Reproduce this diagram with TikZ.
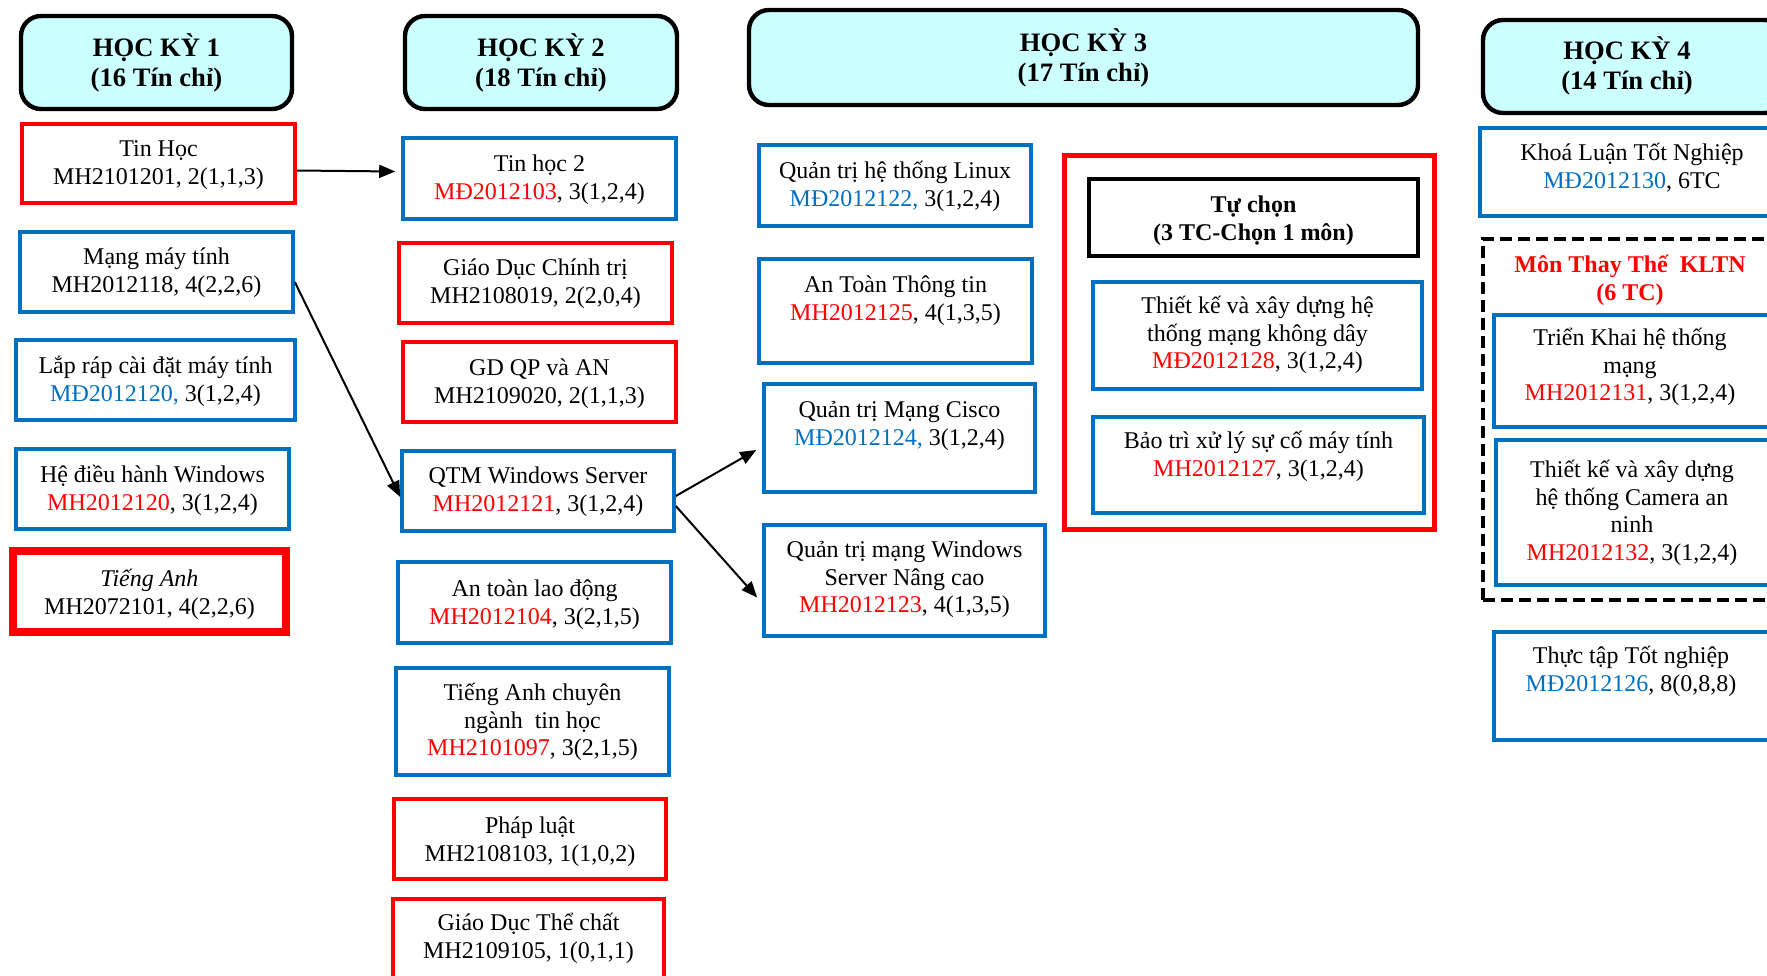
\documentclass[tikz,border=0pt]{standalone}
\usepackage{fontspec}
\setmainfont{Liberation Serif}
\usetikzlibrary{arrows.meta,fit,calc}
\definecolor{bl}{RGB}{0,112,192}
\definecolor{rd}{RGB}{255,0,0}
\definecolor{hdfill}{RGB}{204,255,255}
\newcommand\fst{\rule{0pt}{11pt}}
\newcommand\rtx[1]{{\color{rd}#1}}
\newcommand\btx[1]{{\color{bl}#1}}
\begin{document}
\begin{tikzpicture}[x=0.5pt,y=-0.5pt,
  bbox/.style={draw=bl,line width=1.8pt,inner sep=0pt},
  rbox/.style={draw=rd,line width=1.8pt,inner sep=0pt},
  rthick/.style={draw=rd,line width=3.6pt,inner sep=0pt},
  kbox/.style={draw=black,line width=1.9pt,inner sep=0pt},
  rbig/.style={draw=rd,line width=2.4pt,inner sep=0pt},
  dbox/.style={draw=black,line width=1.6pt,dash pattern=on 6pt off 3pt,inner sep=0pt},
  hdr/.style={draw=black,fill=hdfill,line width=2.2pt,rounded corners=10pt,inner sep=0pt},
  htxt/.style={font=\fontsize{13.3}{15}\selectfont\bfseries,align=center,inner sep=0pt},
  txt/.style={font=\fontsize{12}{13.8}\selectfont,align=center,inner sep=0pt,anchor=north},
  bxt/.style={font=\fontsize{12}{13.8}\selectfont\bfseries,align=center,inner sep=0pt,anchor=north},
  arr/.style={-{Triangle[length=8pt,width=6.5pt]},line width=1pt}]
\useasboundingbox (0,0) rectangle (1767,975);
\clip (0,0) rectangle (1767,975);
\fill[white] (0,0) rectangle (1767,975);

% headers
\node[hdr,fit={(21,16)(292,109)}] (h1) {};
\node[htxt] (h1t) at (h1.center) {HỌC KỲ 1\\(16 Tín chỉ)};
\node[hdr,fit={(405,16)(677,109)}] (h2) {};
\node[htxt] (h2t) at (h2.center) {HỌC KỲ 2\\(18 Tín chỉ)};
\node[hdr,fit={(749,10)(1418,105)}] (h3) {};
\node[htxt] (h3t) at (h3.center) {HỌC KỲ 3\\(17 Tín chỉ)};
\node[hdr,fit={(1483,20)(1785,113)}] (h4) {};
\node[htxt] (h4t) at (1627,66) {HỌC KỲ 4\\(14 Tín chỉ)};

% column 1
\node[rbox,fit={(22,124)(295,203)}] (tinhoc) {};
\node[txt] (tinhoct) at (158.5,134) {\fst Tin Học\\MH2101201, 2(1,1,3)};
\node[bbox,fit={(20,232)(293,312)}] (mang) {};
\node[txt] (mangt) at (156.5,242) {\fst Mạng máy tính\\MH2012118, 4(2,2,6)};
\node[bbox,fit={(16,340)(295,420)}] (laprap) {};
\node[txt] (laprapt) at (155.5,351) {\fst Lắp ráp cài đặt máy tính\\\btx{MĐ2012120,} 3(1,2,4)};
\node[bbox,fit={(16,449)(289,529)}] (hdh) {};
\node[txt] (hdht) at (152.5,460) {\fst Hệ điều hành Windows\\\rtx{MH2012120}, 3(1,2,4)};
\node[rthick,fit={(13,551)(286,632)}] (tienganh) {};
\node[txt] (tiengangt) at (149.5,564) {\fst\textit{Tiếng Anh}\\MH2072101, 4(2,2,6)};

% column 2
\node[bbox,fit={(403,138)(676,219)}] (tinhoc2) {};
\node[txt] (tinhoc2t) at (539.5,149) {\fst Tin học 2\\\rtx{MĐ2012103}, 3(1,2,4)};
\node[rbox,fit={(399,243)(672,323)}] (gdct) {};
\node[txt] (gdctt) at (535.5,253) {\fst Giáo Dục Chính trị\\MH2108019, 2(2,0,4)};
\node[rbox,fit={(403,342)(676,422)}] (gdqp) {};
\node[txt] (gdqpt) at (539.5,353) {\fst GD QP và AN\\MH2109020, 2(1,1,3)};
\node[bbox,fit={(402,451)(674,531)}] (qtm) {};
\node[txt] (qtmt) at (538,461) {\fst QTM Windows Server\\\rtx{MH2012121}, 3(1,2,4)};
\node[bbox,fit={(398,562)(671,643)}] (atld) {};
\node[txt] (atldt) at (534.5,574) {\fst An toàn lao động\\\rtx{MH2012104}, 3(2,1,5)};
\node[bbox,fit={(396,668)(669,775)}] (tacn) {};
\node[txt] (tacnt) at (532.5,678) {\fst Tiếng Anh chuyên\\ngành~ tin học\\\rtx{MH2101097}, 3(2,1,5)};
\node[rbox,fit={(394,799)(666,879)}] (phapluat) {};
\node[txt] (phapluatt) at (530,811) {\fst Pháp luật\\MH2108103, 1(1,0,2)};
\node[rbox,fit={(393,899)(664,1000)}] (gdtc) {};
\node[txt] (gdtct) at (528.5,908) {\fst Giáo Dục Thể chất\\MH2109105, 1(0,1,1)};

% column 3
\node[bbox,fit={(759,145)(1031,226)}] (linux) {};
\node[txt] (linuxt) at (895,156) {\fst Quản trị hệ thống Linux\\\btx{MĐ2012122,} 3(1,2,4)};
\node[bbox,fit={(759,259)(1032,363)}] (attt) {};
\node[txt] (atttt) at (895.5,270) {\fst An Toàn Thông tin\\\rtx{MH2012125}, 4(1,3,5)};
\node[bbox,fit={(764,384)(1035,492)}] (cisco) {};
\node[txt] (ciscot) at (899.5,395) {\fst Quản trị Mạng Cisco\\\btx{MĐ2012124,} 3(1,2,4)};
\node[bbox,fit={(764,525)(1045,636)}] (winnc) {};
\node[txt] (winnct) at (904.5,535) {\fst Quản trị mạng Windows\\Server Nâng cao\\\rtx{MH2012123}, 4(1,3,5)};

\node[rbig,fit={(1064.5,155.5)(1434.5,529.5)}] (redbig) {};
\node[kbox,fit={(1089,179)(1418,256)}] (tuchon) {};
\node[bxt] (tuchont) at (1253.5,190) {\fst Tự chọn\\(3 TC-Chọn 1 môn)};
\node[bbox,fit={(1093,282)(1422,389)}] (tk) {};
\node[txt] (tkt) at (1257.5,291) {\fst Thiết kế và xây dựng hệ\\thống mạng không dây\\\rtx{MĐ2012128}, 3(1,2,4)};
\node[bbox,fit={(1093,417)(1424,513)}] (baotri) {};
\node[txt] (baotrit) at (1258.5,426) {\fst Bảo trì xử lý sự cố máy tính\\\rtx{MH2012127}, 3(1,2,4)};

% column 4
\node[bbox,fit={(1480,128)(1785,216)}] (khoaluan) {};
\node[txt] (khoaluant) at (1632,138) {\fst Khoá Luận Tốt Nghiệp\\\btx{MĐ2012130}, 6TC};
\node[dbox,fit={(1483,239)(1785,600)}] (thaythe) {};
\node[bxt,text=rd] (thaythet) at (1630,250) {\fst Môn Thay Thế~ KLTN\\(6 TC)};
\node[bbox,fit={(1494,315)(1775,427)}] (trienkhai) {};
\node[txt] (trienkhait) at (1630,323) {\fst Triển Khai hệ thống\\mạng\\\rtx{MH2012131}, 3(1,2,4)};
\node[bbox,fit={(1496,440)(1775,585)}] (camera) {};
\node[txt] (camerat) at (1632,455) {\fst Thiết kế và xây dựng\\hệ thống Camera an\\ninh\\\rtx{MH2012132}, 3(1,2,4)};
\node[bbox,fit={(1494,632)(1775,740)}] (thuctap) {};
\node[txt] (thuctapt) at (1631,641) {\fst Thực tập Tốt nghiệp\\\btx{MĐ2012126}, 8(0,8,8)};

% arrows
\draw[arr] ($(tinhoc.east)+(0,7)$) -- ($(tinhoc2.west)+(-6,-7)$);
\draw[arr] ($(mang.east)+(0,10)$) -- ($(qtm.west)+(0,6)$);
\draw[arr] ($(qtm.east)+(0,5)$) -- ($(cisco.west)+(-6,12)$);
\draw[arr] ($(qtm.east)+(0,15)$) -- ($(winnc.west)+(-5,17)$);
\end{tikzpicture}
\end{document}
